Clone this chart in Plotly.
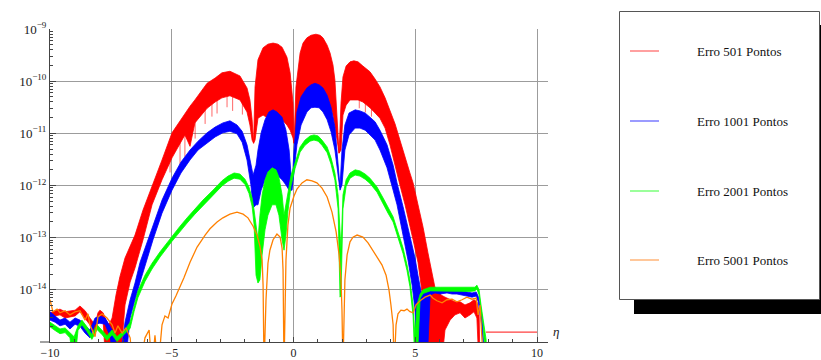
import numpy as np
import plotly.graph_objects as go

# Interpolation error vs. eta for four grid resolutions.
# Each noisy series is stored as an envelope: x, upper and lower log10(error).
# -15.5 marks samples that fall below the plotted range (clipped).

# ---- Erro 501 Pontos (red) ----
red_x = [-10.0, -9.79, -9.59, -9.38, -9.18, -8.97, -8.77, -8.56, -8.36, -8.15, -8.03, -7.95, -7.82, -7.70, -7.58,
         -7.45, -7.29, -7.13, -6.92, -6.71, -6.51, -6.18, -5.81, -5.40, -4.99, -4.46, -4.25, -4.05, -3.55, -3.22,
         -2.94, -2.61, -2.20, -1.91, -1.79, -1.70, -1.64,
         -1.58, -1.46, -1.25, -1.05, -0.84, -0.64, -0.47, -0.27, -0.14, -0.02, 0.02,
         0.10, 0.27, 0.39, 0.55, 0.72, 0.92, 1.09, 1.21, 1.38, 1.50, 1.62, 1.70, 1.79, 1.87,
         1.95, 2.03, 2.16, 2.32, 2.48, 2.65, 2.85, 3.14, 3.35, 3.55, 3.76, 3.96, 4.17, 4.37, 4.58, 4.78, 4.91,
         5.11, 5.32, 5.52, 5.69, 5.81,
         5.89, 6.06, 6.22, 6.43, 6.63, 6.84, 7.04, 7.25, 7.41, 7.53, 7.62, 7.66]
red_hi = [-14.44, -14.40, -14.37, -14.42, -14.40, -14.39, -14.31, -14.40, -14.54, -14.67, -14.44, -14.39, -14.44, -14.58, -14.67,
          -14.54, -14.10, -13.75, -13.39, -13.16, -12.95, -12.47, -12.03, -11.51, -10.99, -10.61, -10.48, -10.36, -10.04, -9.94,
          -9.84, -9.81, -9.90, -10.13, -10.36, -10.74, -11.19,
          -10.11, -9.59, -9.36, -9.29, -9.27, -9.29, -9.35, -9.54, -9.84, -10.42, -11.19,
          -10.11, -9.46, -9.27, -9.17, -9.12, -9.10, -9.12, -9.17, -9.31, -9.46, -9.69, -9.98, -10.74, -11.38,
          -10.42, -9.92, -9.71, -9.63, -9.61, -9.63, -9.71, -9.82, -9.96, -10.11, -10.32, -10.55, -10.82, -11.13, -11.43, -11.76, -11.95,
          -12.34, -12.80, -13.29, -13.68, -13.96,
          -13.98, -14.10, -14.14, -14.18, -14.23, -14.23, -14.29, -14.25, -14.19, -14.23, -14.42, -15.5]
red_lo = [-14.54, -14.50, -14.48, -14.54, -14.52, -14.50, -14.42, -14.54, -14.67, -14.86, -14.58, -14.52, -14.58, -15.5, -15.5,
          -15.5, -15.5, -15.5, -14.29, -13.85, -13.58, -13.04, -12.37, -11.89, -11.47, -11.03, -11.25, -10.80, -10.52, -10.40,
          -10.32, -10.28, -10.36, -10.59, -10.84, -11.13, -11.19,
          -11.13, -10.71, -10.65, -10.71, -10.74, -10.71, -10.74, -10.84, -10.94, -11.09, -11.19,
          -11.19, -10.55, -10.36, -10.30, -10.27, -10.27, -10.27, -10.30, -10.36, -10.46, -10.65, -10.84, -11.13, -11.38,
          -11.32, -10.65, -10.46, -10.36, -10.36, -10.36, -10.40, -10.51, -10.61, -10.71, -10.90, -11.22, -11.61, -11.99, -12.37, -12.76, -13.04,
          -13.47, -14.19, -15.5, -15.5, -15.5,
          -15.5, -15.5, -14.77, -14.58, -14.48, -14.44, -14.54, -14.48, -14.42, -14.54, -15.5, -15.5]
red_tail_x = [7.90, 10.0]
red_tail = [-14.81, -14.81]
# isolated downward spikes below the red band (x, top, bottom)
red_spike_x = [-5.07, -4.66, -4.46, -4.04, -3.63, -3.35, -3.14, -2.73, -2.50, -2.10,
               0.31, 0.45, 0.66, 1.05, 1.30, 2.70, 2.95, 3.20]
red_spike_top = [-11.40, -11.15, -11.03, -10.78, -10.52, -10.42, -10.36, -10.29, -10.29, -10.38,
                 -10.40, -10.33, -10.28, -10.27, -10.33, -10.37, -10.42, -10.52]
red_spike_bot = [-11.75, -11.60, -11.45, -11.10, -10.82, -10.68, -10.62, -10.50, -10.57, -10.64,
                 -10.72, -10.62, -10.50, -10.45, -10.55, -10.52, -10.60, -10.68]

# ---- Erro 1001 Pontos (blue) ----
blue_x = [-10.0, -9.79, -9.59, -9.38, -9.18, -8.97, -8.77, -8.56, -8.36, -8.15, -7.95, -7.74, -7.54, -7.33, -7.17,
          -7.04, -6.92, -6.71, -6.51, -6.30, -6.10, -5.77, -5.40, -4.99, -4.62, -4.25, -3.92, -3.55, -3.22, -2.90,
          -2.61, -2.32, -2.11, -1.91, -1.75,
          -1.66, -1.54, -1.46, -1.33, -1.17, -1.01, -0.84, -0.68, -0.47, -0.31, -0.18, -0.10, -0.06,
          0.02, 0.14, 0.31, 0.55, 0.72, 0.88, 1.05, 1.21, 1.38, 1.54, 1.70, 1.83, 1.91,
          1.99, 2.11, 2.28, 2.53, 2.73, 2.94, 3.14, 3.35, 3.55, 3.84, 4.09, 4.25, 4.50, 4.70, 4.87, 4.99, 5.11, 5.24,
          5.36, 5.48, 5.61, 5.81, 6.02, 6.30, 6.51, 6.71, 6.92, 7.12, 7.33, 7.50, 7.58, 7.66, 7.74, 7.86]
blue_hi = [-14.42, -14.50, -14.58, -14.54, -14.62, -14.54, -14.58, -14.69, -14.77, -14.54, -14.50, -14.54, -14.69, -14.86, -15.5,
           -15.0, -14.62, -14.19, -13.87, -13.47, -13.20, -12.76, -12.28, -11.86, -11.55, -11.32, -11.15, -10.99, -10.88, -10.80,
           -10.76, -10.84, -10.96, -11.22, -11.57,
           -11.80, -11.61, -11.32, -10.99, -10.74, -10.59, -10.55, -10.59, -10.69, -10.94, -11.32, -11.80, -11.99,
           -11.32, -10.59, -10.30, -10.13, -10.07, -10.04, -10.07, -10.13, -10.27, -10.50, -10.88, -11.51, -12.03,
           -11.32, -10.84, -10.61, -10.55, -10.57, -10.61, -10.69, -10.78, -10.94, -11.22, -11.61, -11.95, -12.41, -12.81, -13.16, -13.39, -13.72, -14.04,
           -14.06, -14.04, -13.98, -13.98, -14.00, -13.98, -14.00, -14.00, -14.02, -14.04, -14.06, -14.04, -14.12, -14.29, -14.52, -15.5]
blue_lo = [-14.58, -14.62, -14.69, -14.66, -14.75, -14.66, -14.70, -14.83, -14.92, -14.66, -14.64, -14.66, -14.88, -15.5, -15.5,
           -15.5, -15.5, -14.54, -14.19, -13.85, -13.52, -13.04, -12.53, -12.09, -11.76, -11.51, -11.32, -11.19, -11.07, -10.99,
           -10.96, -11.01, -11.17, -11.51, -11.99,
           -12.43, -12.37, -12.37, -12.09, -11.89, -11.80, -11.74, -11.80, -11.89, -11.99, -12.09, -12.09, -12.09,
           -11.80, -11.22, -10.84, -10.59, -10.51, -10.50, -10.51, -10.59, -10.74, -10.97, -11.32, -11.80, -12.09,
           -11.99, -11.32, -11.03, -10.90, -10.90, -10.94, -11.03, -11.13, -11.32, -11.66, -12.09, -12.37, -12.95, -13.43, -13.91, -14.39, -15.5, -15.5,
           -15.5, -15.5, -14.10, -14.06, -14.08, -14.06, -14.08, -14.08, -14.10, -14.12, -14.14, -14.12, -14.22, -14.45, -14.70, -15.5]

# ---- Erro 2001 Pontos (green) ----
green_x = [-10.0, -9.79, -9.59, -9.38, -9.18, -9.01, -8.85, -8.69, -8.48, -8.28, -8.07, -7.86, -7.66, -7.45, -7.25, -7.04, -6.84,
           -6.71, -6.55, -6.39, -6.10, -5.81, -5.48, -4.99, -4.66, -4.37, -4.05, -3.72, -3.31, -2.94, -2.69, -2.44, -2.20,
           -1.99, -1.83, -1.70, -1.62,
           -1.54, -1.46, -1.38, -1.29,
           -1.17, -1.05, -0.88, -0.72, -0.60, -0.47, -0.39, -0.31,
           -0.23, -0.10, 0.06, 0.27, 0.47, 0.68, 0.84, 1.01, 1.17, 1.38, 1.54, 1.70, 1.83, 1.91, 1.95,
           2.03, 2.16, 2.32, 2.53, 2.73, 2.94, 3.14, 3.43, 3.68, 3.88, 4.09, 4.29, 4.50, 4.66, 4.78, 4.91, 4.99,
           5.07, 5.20, 5.32, 5.61, 6.02, 6.43, 6.84, 7.25, 7.45, 7.53, 7.62, 7.70, 7.78, 7.91]
green_hi = [-14.62, -14.69, -14.75, -14.73, -14.83, -14.90, -14.69, -14.58, -14.71, -14.86, -14.67, -14.77, -14.88, -14.77, -14.90, -14.81, -14.71,
            -14.62, -14.29, -14.02, -13.72, -13.49, -13.27, -12.97, -12.78, -12.62, -12.45, -12.28, -12.09, -11.91, -11.82, -11.76, -11.78,
            -11.88, -12.03, -12.24, -12.47,
            -12.76, -13.04, -12.57, -12.18,
            -11.89, -11.74, -11.66, -11.70, -11.84, -12.18, -12.57, -12.37,
            -12.18, -11.80, -11.57, -11.26, -11.13, -11.05, -11.03, -11.05, -11.13, -11.26, -11.47, -11.76, -12.18, -13.04, -13.24,
            -12.18, -11.89, -11.76, -11.70, -11.72, -11.78, -11.86, -12.03, -12.24, -12.43, -12.60, -12.89, -13.20, -13.52, -13.81, -14.29, -14.90,
            -14.29, -14.08, -14.00, -13.95, -13.95, -13.95, -13.96, -13.96, -13.95, -13.91, -14.00, -14.29, -14.52, -14.96]
green_lo = [-14.71, -14.78, -14.84, -14.82, -14.92, -15.5, -14.78, -14.67, -14.80, -14.95, -14.76, -14.86, -14.97, -14.86, -14.99, -14.90, -14.80,
            -14.74, -14.42, -14.15, -13.84, -13.60, -13.37, -13.07, -12.88, -12.72, -12.55, -12.38, -12.19, -12.01, -11.92, -11.86, -11.88,
            -11.98, -12.15, -12.40, -12.75,
            -13.72, -13.87, -13.81, -13.33,
            -12.85, -12.57, -12.37, -12.37, -12.57, -13.04, -13.24, -12.95,
            -12.50, -12.00, -11.68, -11.36, -11.23, -11.15, -11.13, -11.15, -11.23, -11.37, -11.59, -11.90, -12.45, -14.14, -14.10,
            -12.45, -12.02, -11.86, -11.80, -11.82, -11.88, -11.96, -12.13, -12.34, -12.53, -12.70, -13.00, -13.31, -13.63, -13.94, -14.50, -15.5,
            -15.5, -14.16, -14.07, -14.02, -14.02, -14.02, -14.03, -14.03, -14.02, -13.98, -14.10, -14.40, -14.65, -15.5]

# ---- Erro 5001 Pontos (orange) ----
orange_x = [-10.0, -9.88, -9.71, -9.59, -9.38, -9.18, -8.97, -8.77, -8.56, -8.44, -8.36, -8.23, -8.15, -8.03, -7.86,
            -7.66, -7.45, -7.33, -7.21, -7.04, -6.88, -6.71, -6.59, -6.30, -6.10, -5.93, -5.81, -5.69, -5.56, -5.40,
            -5.28, -5.15, -4.99, -4.83, -4.66, -4.50, -4.25, -3.96, -3.63, -3.43, -3.14, -2.90, -2.61, -2.32, -2.07,
            -1.87, -1.66, -1.50, -1.38, -1.29, -1.25, -1.21, -1.13, -1.05, -0.97, -0.84, -0.68, -0.55, -0.47, -0.43,
            -0.39, -0.31, -0.23, -0.14, 0.02, 0.14, 0.35, 0.55, 0.76, 0.96, 1.17, 1.38, 1.58, 1.75, 1.87, 1.95, 1.99,
            2.03, 2.11, 2.20, 2.32, 2.44, 2.61, 2.85, 3.06, 3.26, 3.47, 3.63, 3.80, 3.92, 4.00, 4.09, 4.13, 4.21, 4.29,
            4.41, 4.54, 4.66, 4.78, 4.91, 5.03, 5.20, 5.40, 5.61, 5.73, 5.89, 6.10, 6.30, 6.51, 6.71, 6.92, 7.12, 7.33,
            7.50, 7.58, 7.66, 7.74, 7.78]
orange_y = [-14.19, -14.42, -14.37, -14.44, -14.40, -14.48, -14.42, -14.40, -14.58, -14.46, -14.67, -14.83, -14.90, -14.52, -14.46,
            -14.54, -14.67, -14.83, -14.69, -14.83, -14.73, -14.92, -15.5, -15.5, -14.92, -14.77, -15.5, -14.87, -15.5, -14.67,
            -14.50, -14.54, -14.27, -14.12, -13.95, -13.77, -13.47, -13.18, -12.95, -12.83, -12.70, -12.62, -12.55, -12.51, -12.55,
            -12.62, -12.78, -12.95, -13.16, -13.43, -13.91, -15.5, -14.19, -13.49, -13.24, -13.04, -12.93, -12.99, -13.20, -13.62,
            -15.5, -13.43, -12.76, -12.43, -12.20, -12.07, -11.95, -11.89, -11.91, -11.95, -12.05, -12.22, -12.51, -12.89, -13.33, -13.81, -14.39,
            -15.5, -13.81, -13.33, -13.08, -12.99, -12.95, -12.99, -13.10, -13.24, -13.39, -13.52, -13.72, -14.00, -14.29, -14.67, -15.5, -14.67, -14.46,
            -14.39, -14.40, -14.37, -14.42, -14.44, -14.29, -14.21, -14.14, -14.10, -14.16, -14.21, -14.25, -14.19, -14.18, -14.23, -14.19, -14.14, -14.18,
            -14.16, -14.48, -14.29, -14.96, -15.5]

colors = {"red": "#ff0000", "blue": "#0000ff", "green": "#00ff00", "orange": "#ff8000"}
legend_colors = ["#ff8080", "#7a7aff", "#7aff7a", "#ffb478"]
legend_labels = ["Erro 501 Pontos", "Erro 1001 Pontos", "Erro 2001 Pontos", "Erro 5001 Pontos"]

x_ticks = [-10, -5, 0, 5, 10]
x_ticktext = ["\u221210", "\u22125", "0", "5", "10"]
y_exponents = [-14, -13, -12, -11, -10, -9]


def band(xs, hi, lo, color):
    xs = list(xs)
    up = list(10.0 ** np.array(hi))
    dn = list(10.0 ** np.array(lo))
    return go.Scatter(x=xs + xs[::-1], y=up + dn[::-1], mode="lines", fill="toself",
                      fillcolor=color, line=dict(color=color, width=0.8),
                      hoverinfo="skip", showlegend=False)


def spikes(xs, tops, bots, color):
    sx, sy = [], []
    for x, t, b in zip(xs, tops, bots):
        sx += [x, x, None]
        sy += [10.0 ** t, 10.0 ** b, None]
    return go.Scatter(x=sx, y=sy, mode="lines", line=dict(color=color, width=1),
                      hoverinfo="skip", showlegend=False)


fig = go.Figure()
fig.add_trace(band(red_x, red_hi, red_lo, colors["red"]))
fig.add_trace(spikes(red_spike_x, red_spike_top, red_spike_bot, "rgba(255,0,0,0.6)"))
fig.add_trace(go.Scatter(x=red_tail_x, y=10.0 ** np.array(red_tail), mode="lines",
                         line=dict(color="#ff4040", width=1.2), showlegend=False))
fig.add_trace(band(blue_x, blue_hi, blue_lo, colors["blue"]))
fig.add_trace(band(green_x, green_hi, green_lo, colors["green"]))
fig.add_trace(go.Scatter(x=orange_x, y=10.0 ** np.array(orange_y), mode="lines",
                         line=dict(color=colors["orange"], width=1.3), showlegend=False))

# plot area in pixels: x 50..548, y 29..342
L, R, T, B = 50, 548, 29, 342
W, H = R - L, B - T


def px(x):
    return (x - L) / W


def py(y):
    return (B - y) / H


axis_col = "#444444"
grid_col = "#9c9c9c"
font_serif = "Liberation Serif, Times New Roman, serif"

fig.update_xaxes(range=[-10, 10.45], tickvals=x_ticks, ticktext=x_ticktext, automargin=False,
                 showgrid=True, gridcolor=grid_col, gridwidth=1, zeroline=False,
                 showline=True, linecolor=axis_col, linewidth=1,
                 ticks="inside", ticklen=5, tickcolor=axis_col,
                 minor=dict(tickvals=[v for v in range(-9, 11) if v % 5 != 0], ticks="inside",
                            ticklen=3, tickcolor=axis_col, showgrid=False),
                 tickfont=dict(family=font_serif, size=12, color="#222"))
fig.update_yaxes(type="log", range=[-15, -9], automargin=False,
                 tickvals=[10.0 ** e for e in y_exponents],
                 ticktext=["10<sup>\u2212%d</sup>" % (-e) for e in y_exponents],
                 showgrid=True, gridcolor=grid_col, gridwidth=1, zeroline=False,
                 showline=True, linecolor=axis_col, linewidth=1,
                 ticks="inside", ticklen=6, tickcolor=axis_col,
                 minor=dict(tickvals=[k * 10.0 ** e for e in range(-15, -9) for k in range(2, 10)],
                            ticks="inside", ticklen=3, tickcolor=axis_col, showgrid=False),
                 tickfont=dict(family=font_serif, size=13, color="#222"))

shapes = [
    # x axis extends a little left of the y axis
    dict(type="line", xref="paper", yref="paper", x0=px(40), x1=px(50), y0=0, y1=0,
         line=dict(color=axis_col, width=1)),
    # legend shadow and frame
    dict(type="rect", xref="paper", yref="paper", x0=px(634), x1=px(845), y0=py(314), y1=py(25),
         fillcolor="black", line=dict(width=0), layer="above"),
    dict(type="rect", xref="paper", yref="paper", x0=px(619.5), x1=px(819.5), y0=py(299.5), y1=py(11.5),
         fillcolor="white", line=dict(color="#555", width=1), layer="above"),
]
annotations = [
    dict(text="<i>\u03b7</i>", xref="paper", yref="paper", x=px(561), y=py(341), showarrow=False,
         font=dict(family=font_serif, size=13, color="#222")),
]
for i, (lab, col) in enumerate(zip(legend_labels, legend_colors)):
    yy = [51, 121, 191, 260][i]
    shapes.append(dict(type="line", xref="paper", yref="paper", x0=px(630), x1=px(659),
                       y0=py(yy), y1=py(yy), line=dict(color=col, width=1.5), layer="above"))
    annotations.append(dict(text=lab, xref="paper", yref="paper", x=px(695), y=py(yy),
                            xanchor="left", yanchor="middle", showarrow=False,
                            font=dict(family=font_serif, size=13, color="#111")))

fig.update_layout(width=821, height=360, margin=dict(l=L, r=821 - R, t=T, b=360 - B),
                  paper_bgcolor="white", plot_bgcolor="white",
                  shapes=shapes, annotations=annotations, showlegend=False)

fig.write_html("out.html")
